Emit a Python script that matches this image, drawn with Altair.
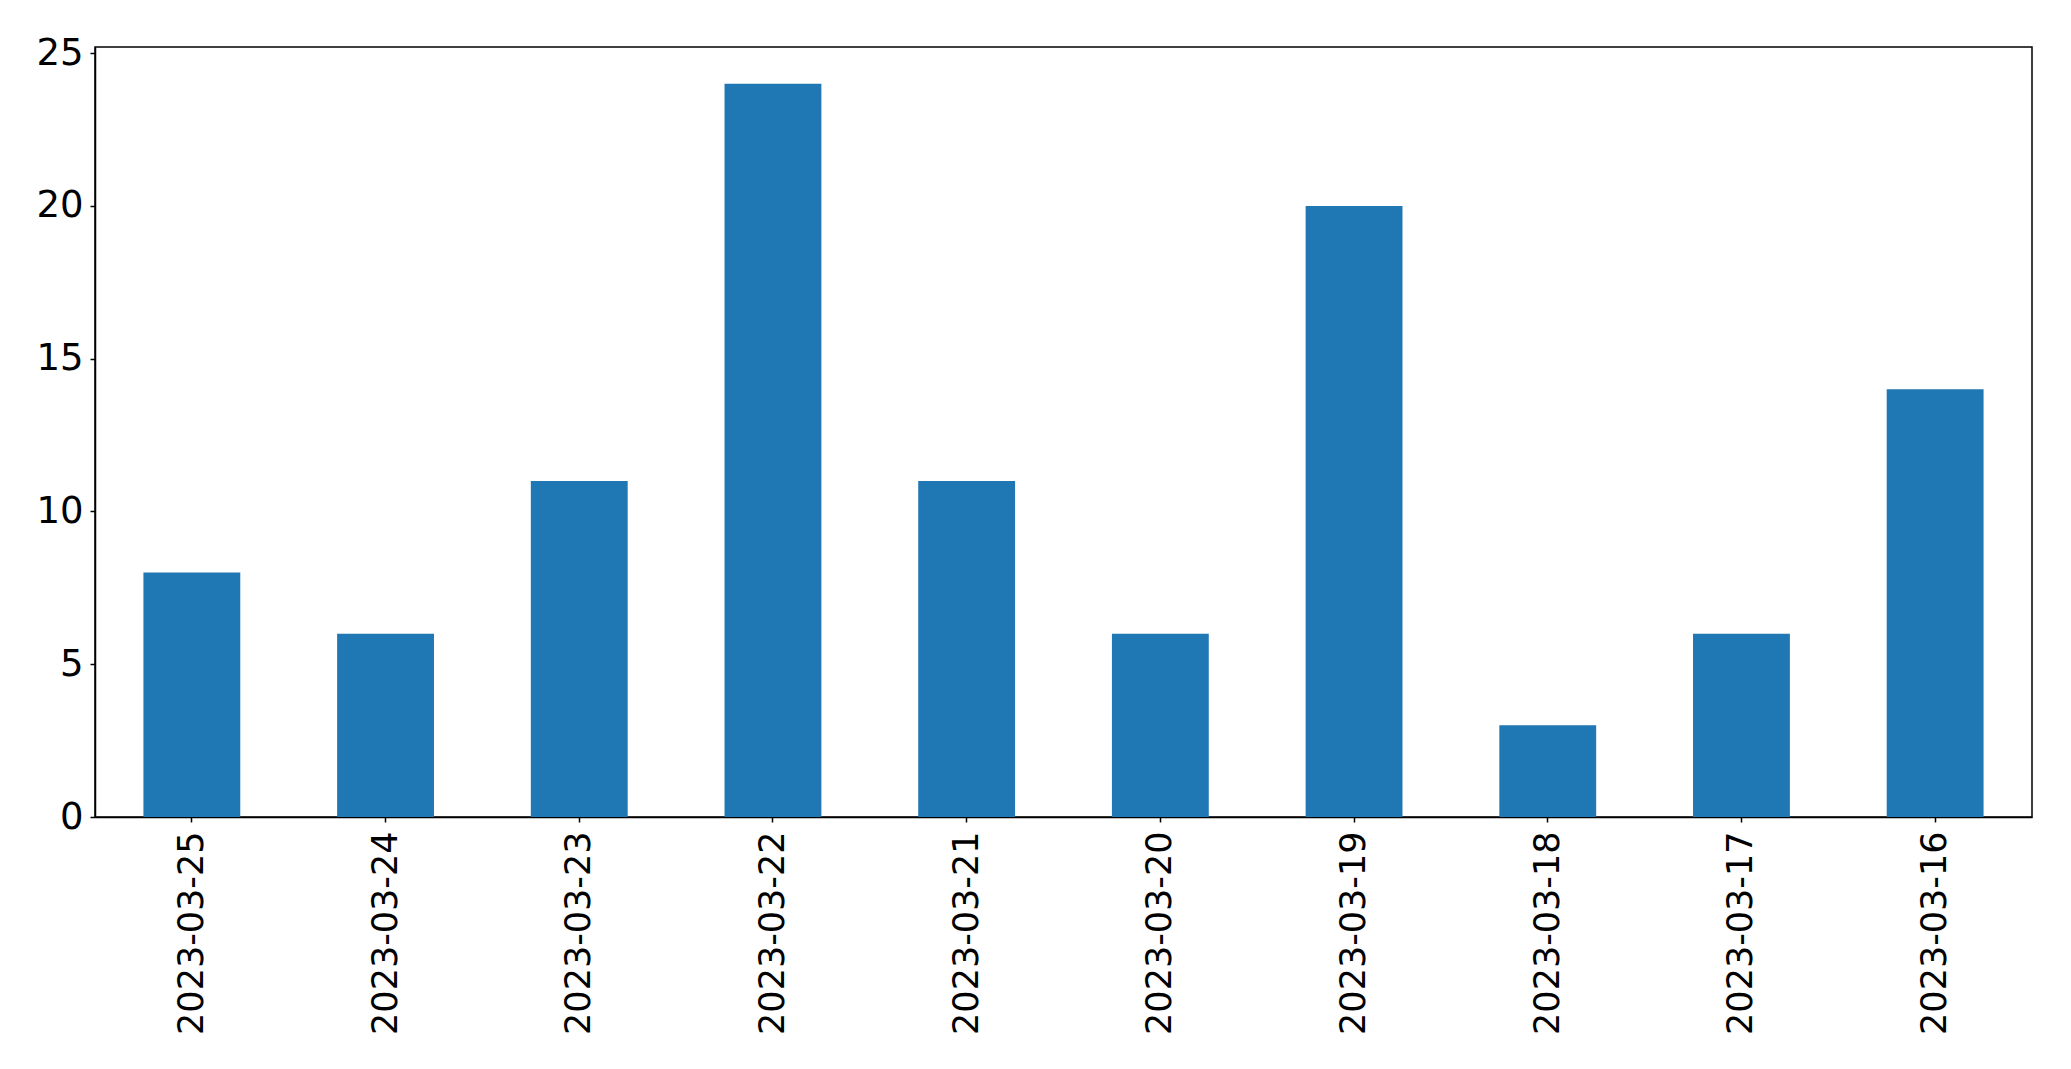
import altair as alt
import pandas as pd

dates = ["2023-03-25", "2023-03-24", "2023-03-23", "2023-03-22", "2023-03-21",
         "2023-03-20", "2023-03-19", "2023-03-18", "2023-03-17", "2023-03-16"]
counts = [8, 6, 11, 24, 11, 6, 20, 3, 6, 14]
y_ticks = [0, 5, 10, 15, 20, 25]

df = pd.DataFrame({"date": dates, "count": counts})

chart = alt.Chart(df).mark_bar(color="#1f77b4").encode(
    x=alt.X("date:N", sort=dates, title=None,
            scale=alt.Scale(paddingInner=0.5, paddingOuter=0.25),
            axis=alt.Axis(labelAngle=-90, labelFontSize=35, labelFont="DejaVu Sans",
                          labelColor="black", tickColor="black", domainColor="black",
                          tickSize=5, labelPadding=9, labelLimit=0, grid=False)),
    y=alt.Y("count:Q", title=None,
            scale=alt.Scale(domain=[0, 25.2], nice=False, zero=True),
            axis=alt.Axis(values=y_ticks, labelFontSize=37, labelFont="DejaVu Sans",
                          labelColor="black", tickColor="black", domainColor="black",
                          tickSize=5, labelPadding=7, grid=False)),
).properties(
    width=1937,
    height=770,
    autosize=alt.AutoSizeParams(type="none"),
    padding={"left": 87, "top": 39, "right": 31, "bottom": 240},
).configure_view(
    stroke="black", strokeWidth=1.5
).configure_axis(
    domainWidth=1.5, tickWidth=1.5
)

chart.save("out.html", embed_options={"renderer": "svg", "actions": False})
